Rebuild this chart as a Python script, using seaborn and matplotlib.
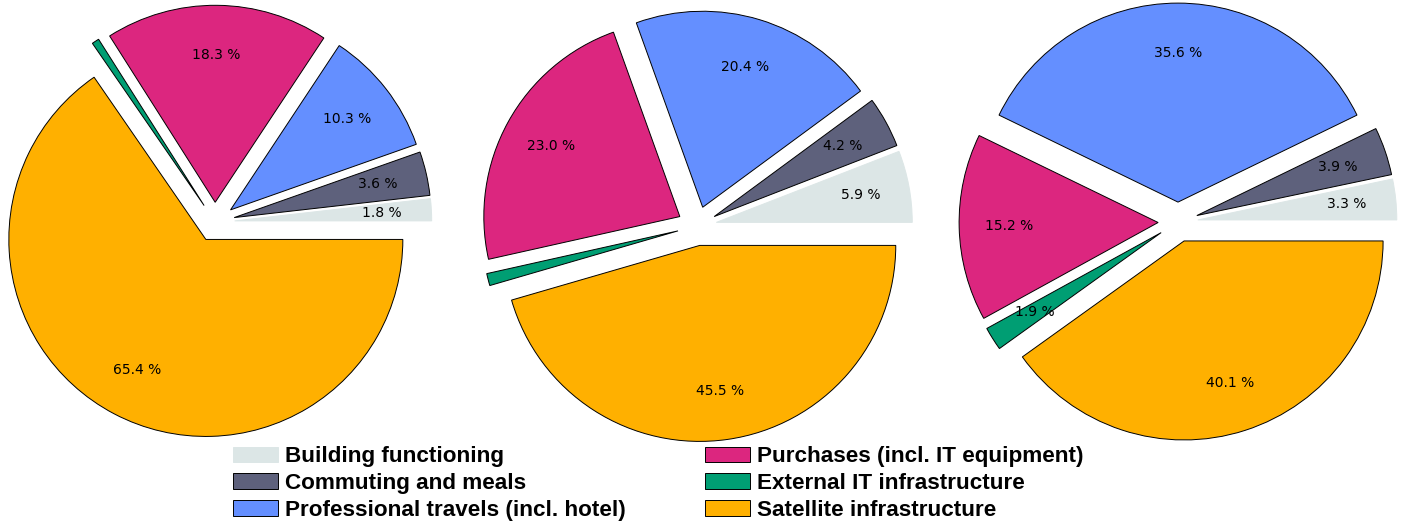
import matplotlib
matplotlib.use("Agg")
import matplotlib.pyplot as plt
import seaborn as sns

categories = ["Building functioning", "Commuting and meals",
              "Professional travels (incl. hotel)", "Purchases (incl. IT equipment)",
              "External IT infrastructure", "Satellite infrastructure"]
colors = ["#dce6e6", "#5e617c", "#648fff", "#dc267f", "#009e73", "#ffb000"]
pie1_values = [1.8, 3.6, 10.3, 18.3, 0.6, 65.4]
pie2_values = [5.9, 4.2, 20.4, 23.0, 1.0, 45.5]
pie3_values = [3.3, 3.9, 35.6, 15.2, 1.9, 40.1]

sns.set_theme(style="white")
plt.rcParams['font.family'] = ['DejaVu Sans']
plt.rcParams['text.color'] = 'black'

W, H = 1404, 523
fig = plt.figure(figsize=(W / 100, H / 100), dpi=100)

L = 1.25
# (center x, center y from top, radius) in pixels
layout = [(215, 222, 197), (697, 226, 196), (1178, 222, 199)]


def fmt(p):
    return f"{p:.1f} %" if p > 1.5 else ""


for (cx, cy, r), vals in zip(layout, [pie1_values, pie2_values, pie3_values]):
    side = 2 * L * r
    left = (cx - side / 2) / W
    bottom = ((H - cy) - side / 2) / H
    ax = fig.add_axes([left, bottom, side / W, side / H])
    wedges, texts, autotexts = ax.pie(
        vals, colors=colors, explode=[0.1] * len(vals), startangle=0,
        autopct=fmt, pctdistance=0.75, counterclock=True,
        wedgeprops=dict(edgecolor="black", linewidth=0.7),
        textprops=dict(fontsize=10, color="black"))
    wedges[0].set_edgecolor(colors[0])
    ax.set_xlim(-L, L)
    ax.set_ylim(-L, L)
    ax.set_aspect("equal")
    ax.axis("off")

handles = [plt.Rectangle((0, 0), 1, 1, facecolor=c,
                         edgecolor=(c if i == 0 else "black"), linewidth=0.7)
           for i, c in enumerate(colors)]
leg = fig.legend(handles, categories, ncol=2, frameon=False,
                 loc="lower left", bbox_to_anchor=(233 / W, 2 / H),
                 borderaxespad=0, borderpad=0,
                 handlelength=2.0, handleheight=0.7, handletextpad=0.3,
                 labelspacing=0.26, columnspacing=3.54,
                 prop=dict(family="Liberation Sans", weight="bold", size=16.2))
for t in leg.get_texts():
    t.set_color("black")

fig.savefig("out.png", dpi=100, facecolor="white")
